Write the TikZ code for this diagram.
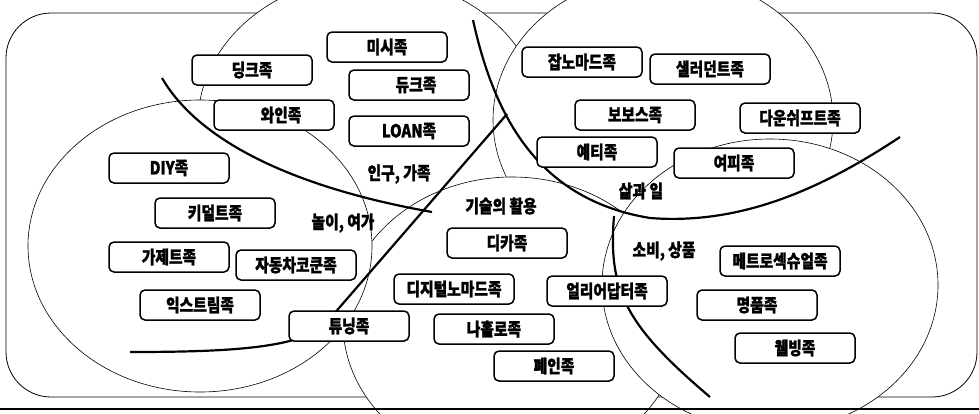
\documentclass[tikz,border=0pt]{standalone}
\usepackage{fontspec}
\newfontfamily\kr{Noto Sans CJK KR}[FakeStretch=0.82, BoldFeatures={FakeBold=1.2}]
\tikzset{
  tribe/.style={draw, line width=1.5pt, rounded corners=5pt, fill=white,
    minimum width=120pt, minimum height=30pt, inner sep=0pt,
    font=\kr\bfseries\fontsize{18}{18}\selectfont},
  topic/.style={font=\kr\bfseries\fontsize{18}{18}\selectfont},
  area/.style={draw, line width=0.6pt, fill=white},
  divide/.style={line width=2.2pt},
}
\begin{document}
\begin{tikzpicture}[x=1pt,y=-1pt]
  \clip (0,0) rectangle (979,413);
  \draw[line width=0.8pt, rounded corners=45pt] (6,13) rectangle (977,397);

  % the five areas
  \draw[area] (370,123) ellipse [x radius=172pt, y radius=146pt];
  \draw[area] (663,120) ellipse [x radius=170pt, y radius=146pt];
  \draw[area] (512,323) ellipse [x radius=169pt, y radius=146pt];
  \draw[area] (200,246) ellipse [x radius=172pt, y radius=146pt];
  \draw[area] (770,285) ellipse [x radius=168pt, y radius=146pt];

  % dividing curves
  \draw[divide] (162,78) .. controls (195,135) and (280,185) .. (432,212);
  \draw[divide] (130,352) .. controls (230,352) and (285,348) .. (320,330) -- (507,114);
  \draw[divide] (473,20) .. controls (495,120) and (540,200) .. (650,218)
    .. controls (740,225) and (820,190) .. (900,137);
  \draw[divide] (614,216) .. controls (608,290) and (625,325) .. (710,397);

  % tribes
  \node[tribe] (dink) at (252,70) {딩크족};
  \node[tribe] (missy) at (387,47) {미시족};
  \node[tribe] (dewk) at (409,85) {\hspace{14pt}듀크족};
  \node[tribe] (wine) at (274,115) {\hspace{14pt}와인족};
  \node[tribe] (loan) at (409,131) {LOAN족};
  \node[tribe] (diy) at (169,168) {DIY족};
  \node[tribe] (kidult) at (215,213) {키덜트족};
  \node[tribe] (gadget) at (169,257) {가제트족};
  \node[tribe] (cocoon) at (296,265) {자동차코쿤족};
  \node[tribe] (extreme) at (200,305) {익스트림족};
  \node[tribe] (tuning) at (349,326) {튜닝족};
  \node[tribe] (digicam) at (507,243) {디카족};
  \node[tribe] (dnomad) at (454,289) {디지털노마드족};
  \node[tribe] (alone) at (494,329) {나홀로족};
  \node[tribe] (pain) at (554,366) {폐인족};
  \node[tribe] (early) at (607,291) {얼리어답터족};
  \node[tribe] (jnomad) at (582,62) {잡노마드족};
  \node[tribe] (salad) at (710,69) {샐러던트족};
  \node[tribe] (bobos) at (635,115) {보보스족};
  \node[tribe] (downshift) at (800,118) {다운쉬프트족};
  \node[tribe] (yettie) at (597,152) {예티족};
  \node[tribe] (yuppie) at (734,163) {여피족};
  \node[tribe] (metro) at (780,261) {메트로섹슈얼족};
  \node[tribe] (luxury) at (757,305) {명품족};
  \node[tribe] (wellbeing) at (795,348) {웰빙족};

  % area titles
  \node[topic] (family) at (399,174) {인구, 가족};
  \node[topic] (leisure) at (343,223) {놀이, 여가};
  \node[topic] (tech) at (501,206) {기술의 활용};
  \node[topic] (work) at (641,191) {삶과 일};
  \node[topic] (goods) at (664,251) {소비, 상품};

  \draw[line width=2.5pt] (0,409) -- (979,409);
\end{tikzpicture}
\end{document}
